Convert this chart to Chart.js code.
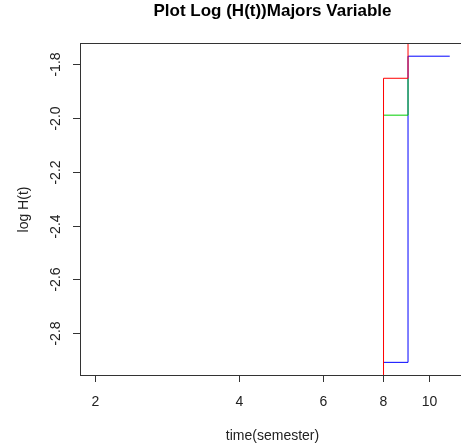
<!DOCTYPE html>
<html>
<head>
<meta charset="utf-8">
<title>Plot Log (H(t))Majors Variable</title>
<script src="https://cdn.jsdelivr.net/npm/chart.js@4/dist/chart.umd.min.js"></script>
<style>
    html, body { margin: 0; padding: 0; background: #fff; overflow: hidden; }
    #wrap { width: 480px; height: 447px; }
</style>
</head>
<body>
<div id="wrap"><canvas id="chart" width="480" height="447"></canvas></div>
<script>
/* step curves of log H(t) per group, time in semesters (log x axis) */
var redTimes = [8, 8, 9];
var redLogH = [-3.5, -1.853, -1.5];      // runs off the plot at both ends
var greenTimes = [8, 9];
var greenLogH = [-1.990, -1.853];
var blueTimes = [8, 9, 11];
var blueLogH = [-2.908, -1.771, -1.771];

var xTicks = [2, 4, 6, 8, 10];
var yTicks = [-2.8, -2.6, -2.4, -2.2, -2.0, -1.8];

var FONT = "'Liberation Sans', Arial, sans-serif";

function pts(xs, ys) {
    return xs.map(function(x, i) { return { x: x, y: ys[i] }; });
}

// R type="s": horizontal first, then vertical (Chart.js calls it "before")
function series(xs, ys, color) {
    return {
        data: pts(xs, ys),
        borderColor: color,
        borderWidth: 1,
        pointRadius: 0,
        stepped: "before",
        tension: 0,
        fill: false
    };
}

// R-style box, ticks and labels drawn off the chart's own scales
var rAxes = {
    id: "rAxes",
    afterDraw: function(chart) {
        var ctx = chart.ctx;
        var ca = chart.chartArea;
        var xs = chart.scales.x;
        var ys = chart.scales.y;
        var midX = (ca.left + ca.right) / 2;
        var midY = (ca.top + ca.bottom) / 2;

        ctx.save();
        ctx.strokeStyle = "#333";
        ctx.lineWidth = 1;
        ctx.strokeRect(ca.left - 0.5, ca.top - 0.5, ca.right - ca.left + 1, ca.bottom - ca.top + 1);

        ctx.fillStyle = "#222";
        ctx.font = "14px " + FONT;

        // x axis
        ctx.textAlign = "center";
        ctx.textBaseline = "middle";
        xTicks.forEach(function(v) {
            var px = Math.floor(xs.getPixelForValue(v)) + 0.5;
            ctx.beginPath();
            ctx.moveTo(px, ca.bottom);
            ctx.lineTo(px, ca.bottom + 7);
            ctx.stroke();
            ctx.fillText(String(v), px, ca.bottom + 27);
        });

        // y axis (labels parallel to the axis)
        yTicks.forEach(function(v) {
            var py = Math.round(ys.getPixelForValue(v)) + 0.5;
            ctx.beginPath();
            ctx.moveTo(ca.left, py);
            ctx.lineTo(ca.left - 8, py);
            ctx.stroke();
            ctx.save();
            ctx.translate(ca.left - 25, py);
            ctx.rotate(-Math.PI / 2);
            ctx.fillText(v.toFixed(1), 0, 0);
            ctx.restore();
        });

        // axis titles
        ctx.fillText("time(semester)", midX, ca.bottom + 61);
        ctx.save();
        ctx.translate(24, midY);
        ctx.rotate(-Math.PI / 2);
        ctx.fillText("log H(t)", 0, 0);
        ctx.restore();

        // main title
        ctx.fillStyle = "#000";
        ctx.font = "bold 17px " + FONT;
        ctx.fillText("Plot Log (H(t))Majors Variable", midX, 11);
        ctx.restore();
    }
};

new Chart(document.getElementById("chart"), {
    type: "line",
    data: {
        datasets: [
            series(redTimes, redLogH, "#ff0000"),
            series(greenTimes, greenLogH, "#00cd00"),
            series(blueTimes, blueLogH, "#0000ff")
        ]
    },
    options: {
        responsive: false,
        animation: false,
        layout: { padding: { left: 81, top: 44, right: 16, bottom: 72 } },
        plugins: { legend: { display: false }, title: { display: false }, tooltip: { enabled: false } },
        scales: {
            x: { type: "logarithmic", display: false, min: 1.868, max: 11.78 },
            y: { type: "linear", display: false, min: -2.955, max: -1.7257 }
        }
    },
    plugins: [rAxes]
});
</script>
</body>
</html>
